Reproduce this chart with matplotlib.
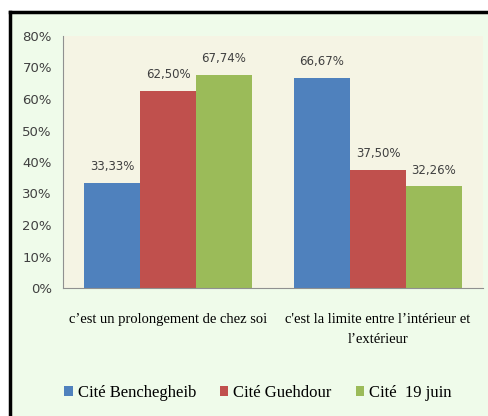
import numpy as np
import matplotlib.pyplot as plt
from matplotlib.patches import Rectangle
from matplotlib.lines import Line2D
from matplotlib.ticker import FuncFormatter

categories = ["c\u2019est un prolongement de chez soi",
              "c'est la limite entre l\u2019int\u00e9rieur et\nl\u2019ext\u00e9rieur"]
series = ["Cit\u00e9 Benchegheib", "Cit\u00e9 Guehdour", "Cit\u00e9  19 juin"]
benchegheib = [33.33, 66.67]
guehdour = [62.50, 37.50]
juin19 = [67.74, 32.26]
colors = ["#4f81bd", "#c0504d", "#9bbb59"]

fig = plt.figure(figsize=(4.88, 4.16), dpi=100)
fig.patch.set_facecolor("white")

# mint panel with a black frame on the top and left edges
W, H = 488, 416
fig.patches.append(Rectangle((10 / W, 0), 1 - 10 / W, 1 - 12 / H,
                             transform=fig.transFigure, facecolor="#effbea",
                             edgecolor="none", zorder=-5))
fig.lines.append(Line2D([10 / W, 1], [1 - 12 / H, 1 - 12 / H],
                        transform=fig.transFigure, color="black", lw=2.5))
fig.lines.append(Line2D([10 / W, 10 / W], [0, 1 - 12 / H],
                        transform=fig.transFigure, color="black", lw=2.5))

ax = fig.add_axes([63 / W, 1 - 288 / H, 420 / W, 252 / H])
ax.set_facecolor("#f5f4e4")

x = np.arange(len(categories))
width = 0.2667
values = [benchegheib, guehdour, juin19]
for i, (name, vals, c) in enumerate(zip(series, values, colors)):
    pos = x + (i - 1) * width
    bars = ax.bar(pos, vals, width, color=c, label=name, zorder=2)
    for b, v in zip(bars, vals):
        ax.annotate(f"{v:.2f}%".replace(".", ","),
                    (b.get_x() + b.get_width() / 2, v),
                    xytext=(0, 7), textcoords="offset points",
                    ha="center", va="bottom", fontsize=8.5, color="#404040")

ax.set_xlim(-0.5, 1.5)
ax.set_ylim(0, 80)
ax.set_yticks(range(0, 81, 10))
ax.yaxis.set_major_formatter(FuncFormatter(lambda v, p: f"{int(v)}%"))
ax.tick_params(axis="y", length=0, pad=8, labelsize=9.5, labelcolor="#404040")
ax.set_xticks(x)
ax.set_xticklabels(categories, family="Liberation Serif", fontsize=10.5,
                   color="black", linespacing=1.7)
ax.tick_params(axis="x", length=0, pad=18)

for s in ["top", "right"]:
    ax.spines[s].set_visible(False)
for s in ["left", "bottom"]:
    ax.spines[s].set_color("#909090")
    ax.spines[s].set_linewidth(0.8)

fig.legend(loc="center", bbox_to_anchor=(258 / W, 1 - 393 / H), ncol=3,
           frameon=False, prop={"family": "Liberation Serif", "size": 12},
           handlelength=0.5, handleheight=0.5, handletextpad=0.3,
           columnspacing=1.45)

fig.savefig("out.png", dpi=100, facecolor=fig.get_facecolor())
